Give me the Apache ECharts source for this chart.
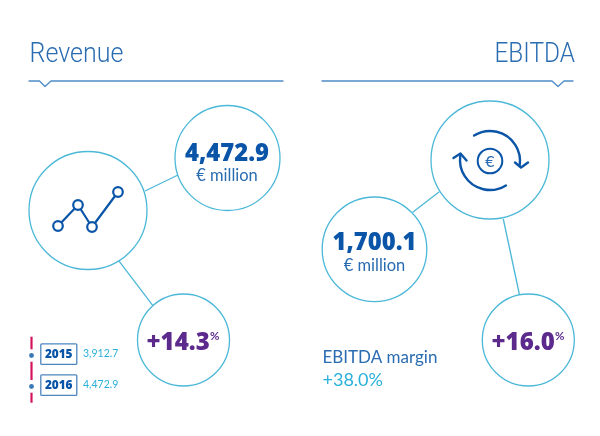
<!DOCTYPE html>
<html><head><meta charset="utf-8">
<style>html,body{margin:0;padding:0;background:#fff}#c{width:600px;height:436px}</style>
<script src="https://cdn.jsdelivr.net/npm/echarts@6/dist/echarts.min.js"></script>
</head><body><div id="c"></div>
<script>
const titles = ['Revenue', 'EBITDA'];
const mainValues = ['4,472.9', '1,700.1'];
const unit = '€ million';
const growth = ['+14.3', '+16.0'];
const years = ['2015', '2016'];
const yearValues = ['3,912.7', '4,472.9'];
const marginLabel = 'EBITDA margin';
const marginValue = '+38.0%';

const FONT = 'Lato, "Open Sans", sans-serif';
const HEAVY = '"Open Sans", Lato, sans-serif';
const THIN = 'Roboto, Lato, sans-serif';
const RING = '#4cb8d8', BLUE = '#0a55a8', MID = '#2a6cb2', SKY = '#2bb0dc', PURPLE = '#5c2a8c', PINK = '#d4145f';
const el = [];
const ring = (cx, cy, r) => el.push({type:'circle', shape:{cx, cy, r}, style:{fill:'#fff', stroke:RING, lineWidth:1.3}, z:2});
const seg = (x1, y1, x2, y2, stroke=RING, lineWidth=1.3) => el.push({type:'line', shape:{x1,y1,x2,y2}, style:{stroke, lineWidth}, z:1});
const poly = (points, stroke, lineWidth) => el.push({type:'polyline', shape:{points}, style:{stroke, lineWidth, fill:null, lineCap:'round', lineJoin:'round'}, z:3});
const txt = (x, y, text, size, fill, weight, align='center', family=FONT, scaleY=1) => el.push({type:'text', x, y, scaleY, style:{text, fontFamily:family, fontSize:size, fontWeight:weight, fill, align, verticalAlign:'middle'}, z:4});
const arc = (cx, cy, r, a0, a1) => el.push({type:'arc', shape:{cx, cy, r, startAngle:a0*Math.PI/180, endAngle:a1*Math.PI/180, clockwise:true}, style:{stroke:BLUE, lineWidth:2.4, fill:null, lineCap:'round'}, z:3});

// headers
txt(29.5, 54.5, titles[0], 25, MID, 300, 'left', THIN, 1.12);
txt(575, 54.5, titles[1], 24.4, MID, 300, 'right', THIN, 1.15);
poly([[29,81],[39.5,81],[45,86.5],[51,81],[283,81]], '#4d8cc8', 1.3);
poly([[322,81],[552,81],[558,86.5],[564,81],[573,81]], '#4d8cc8', 1.3);

// connectors
seg(145,191,178,175); seg(118.7,260.7,152.7,305.3);
seg(412.7,212.3,439.3,191.7); seg(503.3,219,519.3,294);

// circles
ring(88,210.5,59); ring(227.5,158,52.5); ring(183.5,340,46);
ring(490,160,59); ring(374.5,249.3,52.3); ring(528.3,340,46);

// trend icon
const icon = [[58,226],[78,205],[92,227],[118,192]];
poly(icon, BLUE, 2.2);
icon.forEach(([cx,cy]) => el.push({type:'circle', shape:{cx,cy,r:4.8}, style:{fill:'#fff', stroke:BLUE, lineWidth:2.2}, z:4}));

// cycle icon
arc(490,161,30,-122,8);
poly([[515,162.5],[521,167.5],[528,162.5]], BLUE, 2.4);
arc(490,160,30,58,188);
poly([[453.5,158],[460.5,153.5],[466.5,160.5]], BLUE, 2.4);
el.push({type:'circle', shape:{cx:490,cy:161,r:12.3}, style:{fill:'#fff', stroke:BLUE, lineWidth:2}, z:3});
txt(490, 161.5, '€', 16, MID, 400);

// values
txt(227, 154, mainValues[0], 23.8, BLUE, 800, 'center', HEAVY);
txt(227, 176, unit, 16.5, MID, 400);
txt(374.5, 243.5, mainValues[1], 23.8, BLUE, 800, 'center', HEAVY);
txt(374.5, 265.5, unit, 16.5, MID, 400);

// growth
txt(146.5, 343, growth[0], 24, PURPLE, 800, 'left', HEAVY);
txt(210, 336.5, '%', 11.5, PURPLE, 700, 'left');
txt(491.5, 343, growth[1], 24, PURPLE, 800, 'left', HEAVY);
txt(555, 336.5, '%', 11.5, PURPLE, 700, 'left');

// timeline legend
[[336.7,349.3],[361.7,380],[392.7,402.7]].forEach(([a,b]) => seg(31.5,a,31.5,b,PINK,2.2));
years.forEach((y,i) => {
  const cy = [354,385][i];
  el.push({type:'circle', shape:{cx:31.5, cy:cy+1.5, r:2.4}, style:{fill:'#3b78b8'}, z:3});
  el.push({type:'rect', shape:{x:40.8, y:cy-10.2, width:36, height:20.6, r:1}, style:{fill:'#fff', stroke:'#4d86bd', lineWidth:1.3}, z:3});
  txt(58.7, cy+1, y, 11.8, BLUE, 800, 'center', HEAVY);
  txt(83, cy, yearValues[i], 10.5, SKY, 400, 'left');
});

// margin
txt(322.5, 358, marginLabel, 17, MID, 400, 'left');
txt(322.5, 380, marginValue, 18, SKY, 400, 'left');

const chart = echarts.init(document.getElementById('c'), null, {renderer:'canvas'});
chart.setOption({animation:false, backgroundColor:'#fff', graphic:{elements:el}});
</script></body></html>
